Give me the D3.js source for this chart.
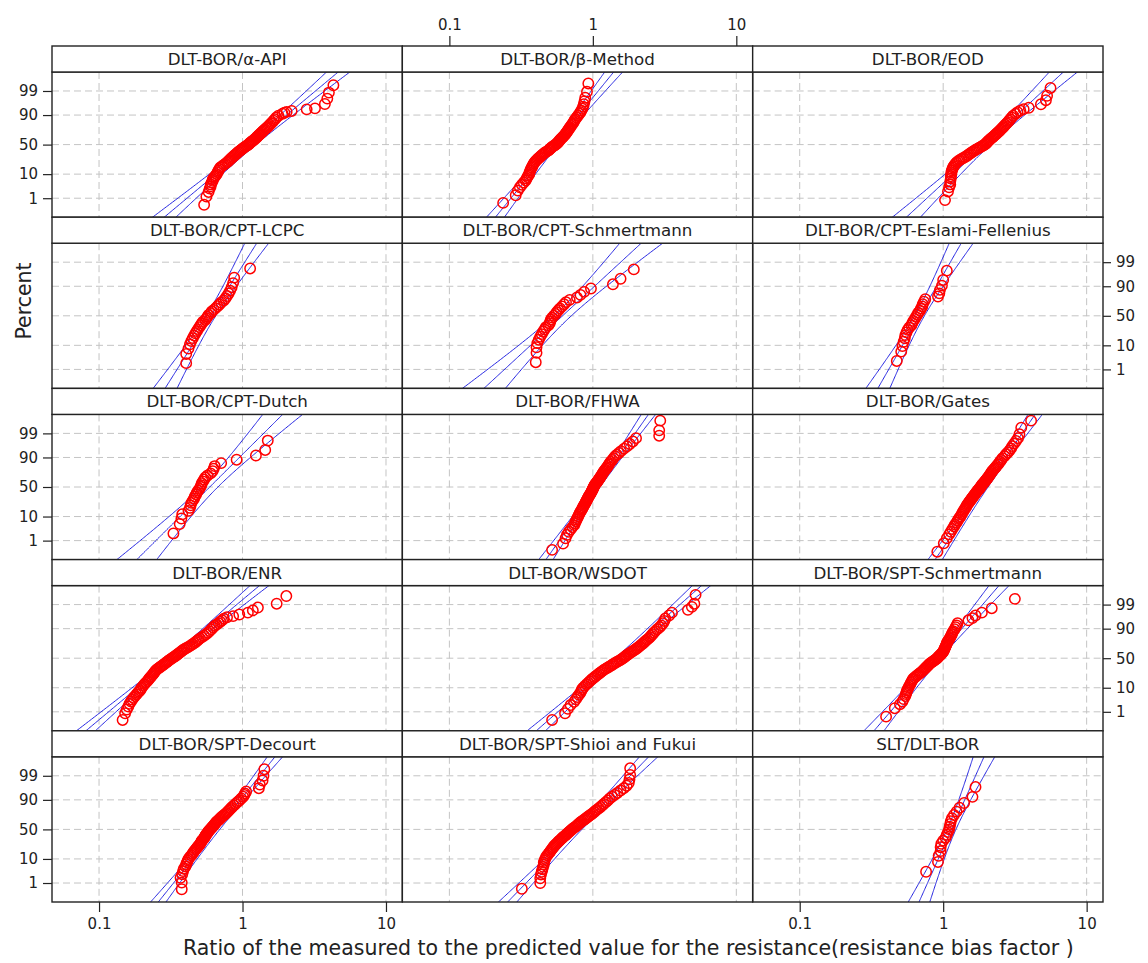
<!DOCTYPE html>
<html>
<head>
<meta charset="utf-8">
<script src="https://cdn.jsdelivr.net/npm/d3@7"></script>
<style>
  body { margin: 0; background: #fff; }
  svg text { font-family: "DejaVu Sans", Verdana, sans-serif; fill: #222; }
</style>
</head>
<body>
<div id="chart"></div>
<script>
// panel titles, row by row
const panelTitles = [
  "DLT-BOR/\u03b1-API", "DLT-BOR/\u03b2-Method", "DLT-BOR/EOD",
  "DLT-BOR/CPT-LCPC", "DLT-BOR/CPT-Schmertmann", "DLT-BOR/CPT-Eslami-Fellenius",
  "DLT-BOR/CPT-Dutch", "DLT-BOR/FHWA", "DLT-BOR/Gates",
  "DLT-BOR/ENR", "DLT-BOR/WSDOT", "DLT-BOR/SPT-Schmertmann",
  "DLT-BOR/SPT-Decourt", "DLT-BOR/SPT-Shioi and Fukui", "SLT/DLT-BOR"
];

// lognormal fit: median ratio, log10 sigma, sample size (for the 95% bands)
const fitMedian  = [1.15, 0.541, 1.953, 0.602, 0.615, 0.684, 0.591, 1.072, 1.96, 0.326, 1.519, 0.898, 0.66, 0.79, 1.143];
const fitSigma   = [0.1925, 0.1308, 0.1737, 0.1014, 0.174, 0.0923, 0.1614, 0.1135, 0.1107, 0.192, 0.1828, 0.1383, 0.1291, 0.156, 0.0719];
const sampleSize = [128, 100, 72, 34, 31, 28, 31, 118, 112, 194, 187, 90, 133, 136, 21];

// points: [ratio, percent]
const ptsAlphaAPI = [[0.54,0.45],[0.56,1.2],[0.58,2],[0.59,2.8],[0.6,3.5],[0.6,4.2],[0.61,5],[0.62,5.8],[0.62,6.6],[0.63,7.4],[0.64,8.2],[0.65,9],
  [0.66,10],[0.67,11.5],[0.68,13],[0.69,14.5],[0.7,16],[0.72,17.5],[0.74,19],[0.76,20.5],[0.78,22],[0.795,23.5],[0.81,25],[0.825,26.5],[0.84,28],[0.855,29.5],[0.87,31],[0.885,32.5],[0.9,34],[0.915,35.5],[0.93,37],[0.945,38.5],[0.965,40],[0.985,41.5],[1.0,43],[1.02,44.5],[1.04,46],[1.06,47.5],[1.085,49],[1.105,50.5],[1.12,52],[1.135,53.5],[1.155,55],[1.175,56.5],[1.2,58],[1.22,59.5],[1.24,61],[1.255,62.5],[1.275,64],[1.295,65.5],[1.315,67],[1.335,68.5],[1.36,70],[1.38,71.5],[1.405,73],[1.43,74.5],[1.46,76],[1.49,77.5],[1.52,79],[1.55,80.5],[1.58,82],[1.61,83.5],[1.645,85],[1.68,86.5],[1.72,88],[1.78,89.5],[1.9,91],
  [1.96,91.7],[2.03,92.2],[2.2,92.8],[2.8,93.7],[3.2,94.2],[3.75,96.1],[3.9,97.7],[4.0,98.8],[4.3,99.5]];
const ptsBetaMethod = [[0.237,0.57],[0.29,1.4],[0.3,2.3],[0.31,3.2],[0.32,4.1],[0.33,5],[0.34,6],[0.345,7],[0.35,8],[0.355,9],
  [0.36,10],[0.362,11.5],[0.367,13],[0.37,14.5],[0.375,16],[0.379,17.5],[0.383,19],[0.387,20.5],[0.392,22],[0.398,23.5],[0.405,25],[0.412,26.5],[0.42,28],[0.428,29.5],[0.435,31],[0.443,32.5],[0.45,34],[0.458,35.5],[0.467,37],[0.478,38.5],[0.49,40],[0.498,41.5],[0.505,43],[0.513,44.5],[0.52,46],[0.532,47.5],[0.543,49],[0.553,50.5],[0.562,52],[0.57,53.5],[0.577,55],[0.583,56.5],[0.59,58],[0.598,59.5],[0.606,61],[0.615,62.5],[0.623,64],[0.632,65.5],[0.64,67],[0.648,68.5],[0.655,70],[0.663,71.5],[0.67,73],[0.678,74.5],[0.685,76],[0.694,77.5],[0.704,79],[0.714,80.5],[0.724,82],[0.734,83.5],[0.743,85],[0.753,86.5],[0.77,88],[0.787,89.5],[0.805,91],
  [0.82,92],[0.83,93],[0.845,94],[0.855,95],[0.865,96],[0.875,97],[0.885,97.9],[0.91,98.9],[0.93,99.6]];
const ptsEOD = [[1.03,0.8],[1.08,2.1],[1.1,3.2],[1.12,4.2],[1.12,5.5],[1.13,7],[1.13,8.5],
  [1.14,10],[1.14,11.5],[1.15,13],[1.16,14.5],[1.17,16],[1.185,17.5],[1.2,19],[1.22,20.5],[1.24,22],[1.27,23.5],[1.3,25],[1.34,26.5],[1.38,28],[1.42,29.5],[1.46,31],[1.49,32.5],[1.52,34],[1.55,35.5],[1.585,37],[1.62,38.5],[1.655,40],[1.7,41.5],[1.74,43],[1.785,44.5],[1.83,46],[1.875,47.5],[1.915,49],[1.96,50.5],[1.99,52],[2.015,53.5],[2.04,55],[2.07,56.5],[2.1,58],[2.135,59.5],[2.17,61],[2.21,62.5],[2.245,64],[2.28,65.5],[2.32,67],[2.36,68.5],[2.4,70],[2.445,71.5],[2.485,73],[2.525,74.5],[2.57,76],[2.615,77.5],[2.66,79],[2.71,80.5],[2.765,82],[2.82,83.5],[2.875,85],[2.93,86.5],[3.0,88],[3.07,89.5],[3.2,91],
  [3.3,92],[3.45,93],[3.64,93.8],[3.95,94.5],[4.8,96],[5.2,97.3],[5.3,98.3],[5.6,99.3]];
const ptsCptLcpc = [[0.405,2],[0.405,4.9],[0.42,7.8],[0.43,10.8],[0.44,13.7],[0.45,16.6],[0.46,19.5],[0.47,22.4],[0.48,25.3],[0.49,28.2],[0.5,31.1],[0.51,34],[0.52,36.9],[0.53,39.8],[0.55,42.7],[0.56,45.6],[0.57,48.5],[0.58,51.5],[0.6,54.4],[0.61,57.3],[0.63,60.2],[0.65,63.1],[0.67,66],[0.69,68.9],[0.71,71.8],[0.74,74.7],[0.76,77.6],[0.78,80.5],[0.8,83.4],[0.82,86.3],[0.84,89.2],[0.86,92.2],[0.875,95.1],[1.13,98]];
const ptsCptSchmertmann = [[0.4,2.2],[0.405,5.4],[0.405,8.6],[0.41,11.8],[0.42,15],[0.43,18.2],[0.44,21.3],[0.45,24.5],[0.46,27.7],[0.47,30.9],[0.49,34.1],[0.5,37.3],[0.505,40.4],[0.51,43.6],[0.52,46.8],[0.535,50],[0.55,53.2],[0.56,56.4],[0.575,59.6],[0.59,62.7],[0.61,65.9],[0.63,69.1],[0.65,72.3],[0.69,75.5],[0.775,78.7],[0.82,81.8],[0.87,85],[0.97,88.2],[1.38,91.4],[1.56,94.6],[1.93,97.8]];
const ptsCptEslami = [[0.475,2.5],[0.51,6],[0.52,9.5],[0.53,13],[0.54,16.5],[0.545,20.1],[0.555,23.6],[0.565,27.1],[0.58,30.6],[0.6,34.2],[0.61,37.7],[0.62,41.2],[0.635,44.7],[0.645,48.2],[0.66,51.8],[0.67,55.3],[0.69,58.8],[0.7,62.3],[0.715,65.8],[0.72,69.4],[0.735,72.9],[0.75,76.4],[0.92,79.9],[0.94,83.5],[0.95,87],[0.98,90.5],[1.0,94],[1.06,97.5]];
const ptsCptDutch = [[0.33,2.2],[0.365,5.4],[0.375,8.6],[0.38,11.8],[0.42,15],[0.43,18.2],[0.435,21.3],[0.44,24.5],[0.45,27.7],[0.46,30.9],[0.465,34.1],[0.475,37.3],[0.48,40.4],[0.49,43.6],[0.5,46.8],[0.51,50],[0.515,53.2],[0.52,56.4],[0.53,59.6],[0.54,62.7],[0.55,65.9],[0.57,69.1],[0.6,72.3],[0.62,75.5],[0.63,78.7],[0.64,81.8],[0.71,85],[0.91,88.2],[1.24,91.4],[1.44,94.6],[1.5,97.8]];
const ptsFHWA = [[0.52,0.32],[0.62,0.7],[0.645,1.3],[0.66,1.9],[0.68,2.6],[0.7,3.3],[0.72,4.1],[0.74,4.9],[0.75,5.8],[0.76,6.8],[0.77,7.8],[0.78,8.9],
  [0.79,10],[0.8,11.5],[0.81,13],[0.823,14.5],[0.834,16],[0.845,17.5],[0.853,19],[0.862,20.5],[0.873,22],[0.882,23.5],[0.89,25],[0.897,26.5],[0.905,28],[0.913,29.5],[0.92,31],[0.928,32.5],[0.935,34],[0.944,35.5],[0.953,37],[0.962,38.5],[0.97,40],[0.977,41.5],[0.984,43],[0.99,44.5],[0.997,46],[1.004,47.5],[1.01,49],[1.017,50.5],[1.024,52],[1.03,53.5],[1.041,55],[1.052,56.5],[1.064,58],[1.075,59.5],[1.087,61],[1.098,62.5],[1.109,64],[1.12,65.5],[1.132,67],[1.143,68.5],[1.155,70],[1.165,71.5],[1.176,73],[1.19,74.5],[1.205,76],[1.22,77.5],[1.238,79],[1.256,80.5],[1.275,82],[1.293,83.5],[1.31,85],[1.335,86.5],[1.365,88],[1.395,89.5],[1.43,91],
  [1.47,92],[1.52,93],[1.57,94],[1.65,95.2],[1.73,96.1],[1.81,96.9],[1.9,97.6],[2.0,98.3],[2.9,98.7],[2.9,99.3],[2.95,99.8]];
const ptsGates = [[0.91,0.25],[1.01,0.73],[1.06,1.3],[1.1,2],[1.13,2.6],[1.16,3.4],[1.19,4.3],[1.21,5.2],[1.24,6.2],[1.26,7.2],[1.28,8.2],[1.3,9.1],
  [1.32,10],[1.34,11.5],[1.36,13],[1.38,14.5],[1.4,16],[1.42,17.5],[1.44,19],[1.455,20.5],[1.47,22],[1.49,23.5],[1.51,25],[1.525,26.5],[1.545,28],[1.565,29.5],[1.58,31],[1.6,32.5],[1.62,34],[1.64,35.5],[1.655,37],[1.675,38.5],[1.69,40],[1.71,41.5],[1.73,43],[1.75,44.5],[1.77,46],[1.79,47.5],[1.81,49],[1.83,50.5],[1.845,52],[1.86,53.5],[1.88,55],[1.905,56.5],[1.93,58],[1.95,59.5],[1.975,61],[2.0,62.5],[2.02,64],[2.045,65.5],[2.07,67],[2.09,68.5],[2.11,70],[2.135,71.5],[2.16,73],[2.18,74.5],[2.21,76],[2.245,77.5],[2.28,79],[2.32,80.5],[2.36,82],[2.405,83.5],[2.45,85],[2.49,86.5],[2.54,88],[2.59,89.5],[2.68,91],
  [2.74,92.2],[2.82,93.3],[2.9,94.3],[2.97,95.3],[3.03,96.2],[3.12,97],[3.22,97.7],[3.32,98.3],[3.4,98.9],[3.5,99.5],[4.1,99.8]];
const ptsENR = [[0.146,0.37],[0.152,0.84],[0.156,1.3],[0.16,1.8],[0.163,2.4],[0.167,3],[0.17,3.6],[0.174,4.3],[0.178,5],[0.182,5.8],[0.186,6.6],[0.19,7.4],[0.193,8.2],[0.196,9.1],
  [0.198,10],[0.203,11.5],[0.207,13],[0.212,14.5],[0.217,16],[0.221,17.5],[0.224,19],[0.228,20.5],[0.232,22],[0.236,23.5],[0.239,25],[0.242,26.5],[0.245,28],[0.248,29.5],[0.252,31],[0.257,32.5],[0.263,34],[0.268,35.5],[0.274,37],[0.279,38.5],[0.285,40],[0.29,41.5],[0.296,43],[0.301,44.5],[0.306,46],[0.312,47.5],[0.319,49],[0.325,50.5],[0.332,52],[0.339,53.5],[0.345,55],[0.352,56.5],[0.358,58],[0.365,59.5],[0.372,61],[0.378,62.5],[0.385,64],[0.395,65.5],[0.406,67],[0.417,68.5],[0.428,70],[0.439,71.5],[0.45,73],[0.461,74.5],[0.472,76],[0.483,77.5],[0.494,79],[0.505,80.5],[0.522,82],[0.539,83.5],[0.556,85],[0.573,86.5],[0.59,88],[0.607,89.5],[0.625,91],
  [0.64,92],[0.66,92.8],[0.68,93.6],[0.7,94.3],[0.72,95],[0.74,95.7],[0.78,96.2],[0.86,96.6],[0.95,97.1],[1.09,97.6],[1.18,98.1],[1.28,98.6],[1.73,99.1],[2.02,99.65]];
const ptsWSDOT = [[0.52,0.37],[0.64,0.84],[0.67,1.4],[0.7,2.1],[0.74,2.9],[0.76,3.7],[0.78,4.6],[0.8,5.6],[0.82,6.7],[0.83,7.8],[0.84,8.9],
  [0.856,10],[0.88,11.5],[0.906,13],[0.93,14.5],[0.953,16],[0.977,17.5],[1.0,19],[1.025,20.5],[1.05,22],[1.075,23.5],[1.1,25],[1.124,26.5],[1.15,28],[1.175,29.5],[1.2,31],[1.232,32.5],[1.265,34],[1.297,35.5],[1.33,37],[1.36,38.5],[1.39,40],[1.425,41.5],[1.458,43],[1.49,44.5],[1.535,46],[1.57,47.5],[1.6,49],[1.64,50.5],[1.66,52],[1.69,53.5],[1.72,55],[1.76,56.5],[1.79,58],[1.83,59.5],[1.87,61],[1.91,62.5],[1.95,64],[2.0,65.5],[2.04,67],[2.08,68.5],[2.12,70],[2.16,71.5],[2.21,73],[2.25,74.5],[2.29,76],[2.34,77.5],[2.39,79],[2.45,80.5],[2.5,82],[2.55,83.5],[2.6,85],[2.66,86.5],[2.72,88],[2.81,89.5],[2.92,91],
  [3.0,92.3],[3.08,93.5],[3.15,94.7],[3.2,95.8],[3.4,96.8],[3.56,97.6],[4.6,98.2],[4.9,98.7],[5.1,99.1],[5.2,99.7]];
const ptsSptSchmertmann = [[0.4,0.56],[0.46,1.5],[0.5,2.3],[0.52,3],[0.53,3.8],[0.545,5],[0.55,6],[0.555,7],[0.56,8],[0.565,9],
  [0.573,10],[0.58,11.5],[0.59,13],[0.596,14.5],[0.605,16],[0.612,17.5],[0.62,19],[0.635,20.5],[0.65,22],[0.665,23.5],[0.68,25],[0.695,26.5],[0.71,28],[0.722,29.5],[0.733,31],[0.745,32.5],[0.756,34],[0.768,35.5],[0.78,37],[0.79,38.5],[0.802,40],[0.815,41.5],[0.832,43],[0.849,44.5],[0.866,46],[0.882,47.5],[0.9,49],[0.915,50.5],[0.923,52],[0.935,53.5],[0.95,55],[0.963,56.5],[0.975,58],[0.988,59.5],[1.0,61],[1.007,62.5],[1.014,64],[1.021,65.5],[1.028,67],[1.035,68.5],[1.042,70],[1.05,71.5],[1.056,73],[1.063,74.5],[1.07,76],[1.083,77.5],[1.096,79],[1.11,80.5],[1.122,82],[1.135,83.5],[1.148,85],[1.161,86.5],[1.175,88],[1.2,89.5],[1.22,91],
  [1.24,92.3],[1.26,93.5],[1.5,95],[1.6,95.9],[1.68,96.8],[1.86,97.6],[2.18,98.5],[3.16,99.5]];
const ptsSptDecourt = [[0.377,0.47],[0.377,1.05],[0.37,1.8],[0.38,2.6],[0.385,3.5],[0.39,4.4],[0.4,5.4],[0.405,6.5],[0.41,7.6],[0.415,8.8],
  [0.42,10],[0.43,11.5],[0.44,13],[0.448,14.5],[0.455,16],[0.462,17.5],[0.47,19],[0.477,20.5],[0.485,22],[0.492,23.5],[0.5,25],[0.507,26.5],[0.512,28],[0.516,29.5],[0.52,31],[0.527,32.5],[0.535,34],[0.541,35.5],[0.545,37],[0.549,38.5],[0.554,40],[0.559,41.5],[0.565,43],[0.571,44.5],[0.576,46],[0.582,47.5],[0.59,49],[0.598,50.5],[0.605,52],[0.612,53.5],[0.62,55],[0.628,56.5],[0.635,58],[0.642,59.5],[0.65,61],[0.657,62.5],[0.667,64],[0.679,65.5],[0.69,67],[0.701,68.5],[0.712,70],[0.725,71.5],[0.74,73],[0.755,74.5],[0.77,76],[0.785,77.5],[0.8,79],[0.815,80.5],[0.83,82],[0.847,83.5],[0.87,85],[0.892,86.5],[0.92,88],[0.95,89.5],[0.98,91],
  [1.01,92.2],[1.03,93.2],[1.04,94],[1.06,95],[1.3,96.3],[1.32,97.4],[1.38,98.3],[1.4,99],[1.42,99.55]];
const ptsSptShioi = [[0.32,0.5],[0.43,1.0],[0.43,1.7],[0.435,2.5],[0.44,3.3],[0.445,4.2],[0.45,5.2],[0.455,6.3],[0.455,7.5],[0.46,8.7],
  [0.465,10],[0.472,11.5],[0.48,13],[0.49,14.5],[0.5,16],[0.507,17.5],[0.515,19],[0.522,20.5],[0.53,22],[0.537,23.5],[0.546,25],[0.555,26.5],[0.565,28],[0.574,29.5],[0.584,31],[0.593,32.5],[0.603,34],[0.612,35.5],[0.622,37],[0.634,38.5],[0.645,40],[0.654,41.5],[0.664,43],[0.674,44.5],[0.685,46],[0.696,47.5],[0.707,49],[0.719,50.5],[0.73,52],[0.745,53.5],[0.76,55],[0.774,56.5],[0.785,58],[0.796,59.5],[0.81,61],[0.825,62.5],[0.84,64],[0.859,65.5],[0.878,67],[0.896,68.5],[0.915,70],[0.934,71.5],[0.955,73],[0.978,74.5],[1.0,76],[1.022,77.5],[1.045,79],[1.07,80.5],[1.1,82],[1.13,83.5],[1.16,85],[1.19,86.5],[1.23,88],[1.27,89.5],[1.31,91],
  [1.36,92.2],[1.42,93.3],[1.48,94.3],[1.56,95.4],[1.64,96.3],[1.72,97.1],[1.78,97.8],[1.8,98.5],[1.82,99.1],[1.82,99.6]];
const ptsSLT = [[0.76,3.3],[0.92,7.9],[0.93,12.6],[0.96,17.3],[0.96,22],[0.97,26.6],[1.0,31.3],[1.04,36],[1.06,40.7],[1.08,45.3],[1.1,50],[1.11,54.7],[1.12,59.3],[1.13,64],[1.15,68.7],[1.19,73.4],[1.24,78],[1.3,82.7],[1.4,87.4],[1.6,92.1],[1.68,96.7]];

const panelPoints = [
  ptsAlphaAPI, ptsBetaMethod, ptsEOD,
  ptsCptLcpc, ptsCptSchmertmann, ptsCptEslami,
  ptsCptDutch, ptsFHWA, ptsGates,
  ptsENR, ptsWSDOT, ptsSptSchmertmann,
  ptsSptDecourt, ptsSptShioi, ptsSLT
];

const percentTicks = [1, 10, 50, 90, 99];
const ratioTicks = [0.1, 1, 10];
const ratioTickLabels = ["0.1", "1", "10"];

// inverse normal cdf (Acklam)
function probit(p) {
  const a = [-3.969683028665376e+01, 2.209460984245205e+02, -2.759285104469687e+02, 1.383577518672690e+02, -3.066479806614716e+01, 2.506628277459239e+00];
  const b = [-5.447609879822406e+01, 1.615858368580409e+02, -1.556989798598866e+02, 6.680131188771972e+01, -1.328068155288572e+01];
  const c = [-7.784894002430293e-03, -3.223964580411365e-01, -2.400758277161838e+00, -2.549732539343734e+00, 4.374664141464968e+00, 2.938163982698783e+00];
  const d = [7.784695709041462e-03, 3.224671290700398e-01, 2.445134137142996e+00, 3.754408661907416e+00];
  const pl = 0.02425;
  if (p < pl) {
    const q = Math.sqrt(-2 * Math.log(p));
    return (((((c[0]*q+c[1])*q+c[2])*q+c[3])*q+c[4])*q+c[5]) / ((((d[0]*q+d[1])*q+d[2])*q+d[3])*q+1);
  }
  if (p > 1 - pl) {
    const q = Math.sqrt(-2 * Math.log(1 - p));
    return -(((((c[0]*q+c[1])*q+c[2])*q+c[3])*q+c[4])*q+c[5]) / ((((d[0]*q+d[1])*q+d[2])*q+d[3])*q+1);
  }
  const q = p - 0.5, r = q * q;
  return (((((a[0]*r+a[1])*r+a[2])*r+a[3])*r+a[4])*r+a[5])*q / (((((b[0]*r+b[1])*r+b[2])*r+b[3])*r+b[4])*r+1);
}

const width = 1148, height = 963;
const frameLeft = 52, frameRight = 1103, frameTop = 46, frameBottom = 902;
const nCols = 3, nRows = 5;
const colW = (frameRight - frameLeft) / nCols;
const rowH = (frameBottom - frameTop) / nRows;
const stripH = 26;
const plotH = rowH - stripH;

const x = d3.scaleLog().domain([0.047, 13.0]).range([0, colW]);
const y = d3.scaleLinear().domain([-3.15, 3.15]).range([plotH, 0]);
const yPct = p => y(probit(p / 100));

const svg = d3.select("#chart").append("svg")
  .attr("width", width)
  .attr("height", height);

svg.append("defs").append("clipPath").attr("id", "plotclip")
  .append("rect").attr("width", colW).attr("height", plotH);

const zGrid = d3.range(-3.6, 3.61, 0.05);
const line = d3.line().x(d => x(d[0])).y(d => y(d[1]));

panelTitles.forEach(function(title, i) {
  const col = i % nCols, row = Math.floor(i / nCols);
  const px = frameLeft + col * colW;
  const py = frameTop + row * rowH;

  const g = svg.append("g").attr("transform", `translate(${px},${py + stripH})`);

  // dashed grid
  g.selectAll(".vgrid").data(ratioTicks).enter().append("line")
    .attr("x1", d => x(d)).attr("x2", d => x(d))
    .attr("y1", 0).attr("y2", plotH)
    .attr("stroke", "#c4c4c4").attr("stroke-dasharray", "7,4");
  g.selectAll(".hgrid").data(percentTicks).enter().append("line")
    .attr("x1", 0).attr("x2", colW)
    .attr("y1", d => yPct(d)).attr("y2", d => yPct(d))
    .attr("stroke", "#c4c4c4").attr("stroke-dasharray", "7,4");

  // fit line and 95% bands
  const mu = Math.log10(fitMedian[i]), s = fitSigma[i], n = sampleSize[i];
  const band = [0, -1, 1].map(function(k) {
    return zGrid.map(function(z) {
      const hw = 1.96 * s / Math.sqrt(n) * Math.sqrt(1 + z * z / 2);
      return [Math.pow(10, mu + s * z + k * hw), z];
    });
  });
  g.append("g").attr("clip-path", "url(#plotclip)")
    .selectAll("path").data(band).enter().append("path")
    .attr("d", line)
    .attr("fill", "none")
    .attr("stroke", "#2424e0")
    .attr("stroke-width", 1);

  // points
  g.selectAll("circle").data(panelPoints[i]).enter().append("circle")
    .attr("cx", d => x(d[0]))
    .attr("cy", d => yPct(d[1]))
    .attr("r", 5.2)
    .attr("fill", "none")
    .attr("stroke", "#ff0000")
    .attr("stroke-width", 1.5);

  // frame
  g.append("rect").attr("width", colW).attr("height", plotH)
    .attr("fill", "none").attr("stroke", "#222").attr("stroke-width", 1.4);

  // strip
  const strip = svg.append("g").attr("transform", `translate(${px},${py})`);
  strip.append("rect").attr("width", colW).attr("height", stripH)
    .attr("fill", "#fff").attr("stroke", "#222").attr("stroke-width", 1.4);
  strip.append("text")
    .attr("x", colW / 2).attr("y", stripH / 2).attr("dy", "0.36em")
    .attr("text-anchor", "middle")
    .style("font-size", "16.7px")
    .text(title);

  // axes
  const zTicks = percentTicks.map(p => probit(p / 100));
  if (col === 0 && row % 2 === 0) {
    g.append("g").attr("class", "axis")
      .call(d3.axisLeft(y).tickValues(zTicks)
        .tickFormat((d, k) => percentTicks[k]).tickSize(9).tickPadding(5));
  }
  if (col === 2 && row % 2 === 1) {
    g.append("g").attr("class", "axis")
      .attr("transform", `translate(${colW},0)`)
      .call(d3.axisRight(y).tickValues(zTicks)
        .tickFormat((d, k) => percentTicks[k]).tickSize(8).tickPadding(5));
  }
  if (row === 0 && col === 1) {
    strip.append("g").attr("class", "axis")
      .call(d3.axisTop(x).tickValues(ratioTicks)
        .tickFormat((d, k) => ratioTickLabels[k]).tickSize(10).tickPadding(6));
  }
  if (row === nRows - 1 && col !== 1) {
    g.append("g").attr("class", "axis")
      .attr("transform", `translate(0,${plotH})`)
      .call(d3.axisBottom(x).tickValues(ratioTicks)
        .tickFormat((d, k) => ratioTickLabels[k]).tickSize(10).tickPadding(6));
  }
});

svg.selectAll(".axis .domain").remove();
svg.selectAll(".axis line").attr("stroke", "#222").attr("stroke-width", 1.2);
svg.selectAll(".axis text").style("font-size", "15px")
  .style("font-family", "'DejaVu Sans', Verdana, sans-serif").attr("fill", "#222");

// axis titles
svg.append("text")
  .attr("transform", "translate(31,301) rotate(-90)")
  .attr("text-anchor", "middle")
  .style("font-size", "20.5px")
  .text("Percent");

svg.append("text")
  .attr("x", 183).attr("y", 955)
  .style("font-size", "20.5px")
  .text("Ratio of the measured to the predicted value for the resistance(resistance bias factor )");
</script>
</body>
</html>
